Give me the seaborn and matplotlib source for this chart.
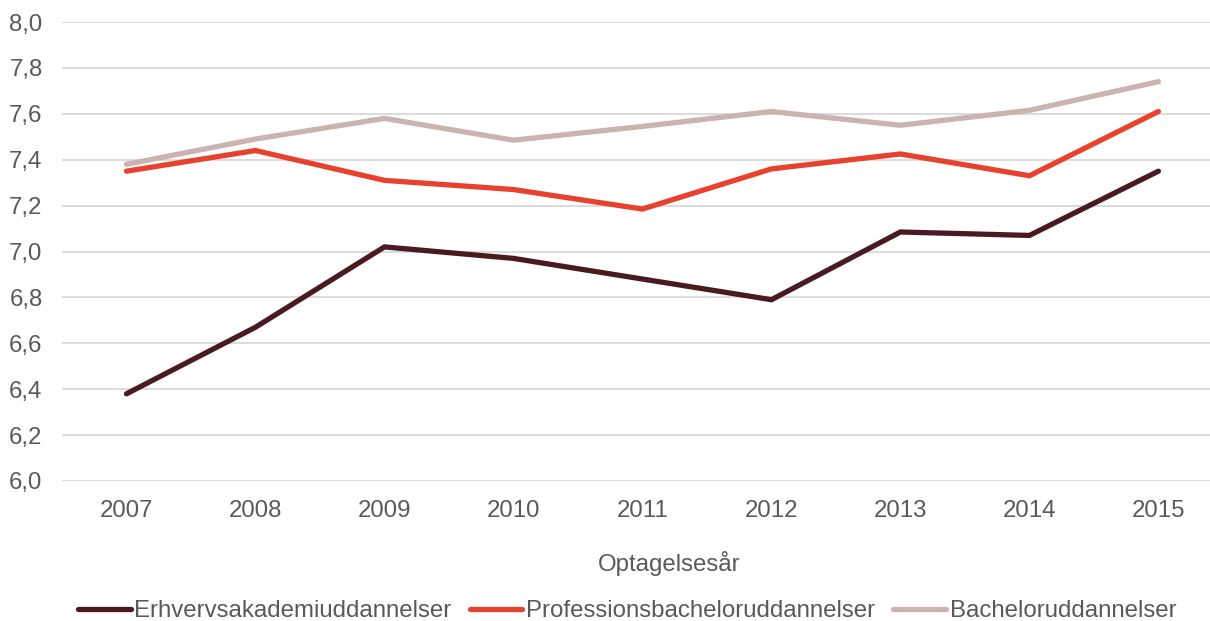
import matplotlib
matplotlib.use("Agg")
import matplotlib.pyplot as plt
import seaborn as sns
import pandas as pd

years = [2007, 2008, 2009, 2010, 2011, 2012, 2013, 2014, 2015]
erhverv = [6.38, 6.67, 7.02, 6.97, 6.88, 6.79, 7.085, 7.07, 7.35]
profession = [7.35, 7.44, 7.31, 7.27, 7.185, 7.36, 7.425, 7.33, 7.61]
bachelor = [7.38, 7.49, 7.58, 7.485, 7.545, 7.61, 7.55, 7.615, 7.74]
series_names = ["Erhvervsakademiuddannelser", "Professionsbacheloruddannelser", "Bacheloruddannelser"]
colors = ["#4a1a23", "#e8422f", "#cbb3b3"]
yticks = [6.0, 6.2, 6.4, 6.6, 6.8, 7.0, 7.2, 7.4, 7.6, 7.8, 8.0]

df = pd.DataFrame({
    "year": years * 3,
    "value": erhverv + profession + bachelor,
    "serie": [series_names[0]] * 9 + [series_names[1]] * 9 + [series_names[2]] * 9,
})

sns.set_theme(style="white")
plt.rcParams["font.family"] = ["Liberation Sans", "DejaVu Sans"]

FS = 17.3
fig = plt.figure(figsize=(12.1, 6.21), dpi=100)
ax = fig.add_axes([62 / 1210, 1 - 481 / 621, 1 - 62 / 1210, (481 - 22) / 621])

sns.lineplot(data=df, x="year", y="value", hue="serie", hue_order=series_names,
             palette=colors, linewidth=3.8, ax=ax, legend=False,
             solid_capstyle="round", solid_joinstyle="miter")

ax.set_ylim(6.0, 8.0)
ax.set_xlim(2006.5, 2015.4)
ax.set_yticks(yticks)
ax.set_yticklabels([f"{v:.1f}".replace(".", ",") for v in yticks])
ax.set_xticks(years)
ax.set_xticklabels([str(y) for y in years])
ax.grid(axis="y", color="#d9d9d9", linewidth=1.3)
ax.set_axisbelow(True)
for s in ax.spines.values():
    s.set_visible(False)
ax.tick_params(axis="both", length=0, labelsize=FS, labelcolor="#595959")
ax.tick_params(axis="y", pad=14)
ax.tick_params(axis="x", pad=14)
ax.set_ylabel("")
ax.set_xlabel("Optagelsesår", fontsize=FS, color="#595959")
ax.xaxis.set_label_coords((669 - 62) / (1210 - 62), -(563 - 481) / (481 - 22), transform=ax.transAxes)
ax.xaxis.label.set_va("center")

handles = [plt.Line2D([0], [0], color=c, linewidth=3.8, solid_capstyle="round") for c in colors]
fig.legend(handles, series_names, loc="center", bbox_to_anchor=(627 / 1210, 1 - 611 / 621),
           ncol=3, frameon=False, fontsize=FS, labelcolor="#595959",
           handlelength=2.2, handletextpad=0.15, columnspacing=0.75, borderpad=0)

fig.savefig("out.png", dpi=100)
